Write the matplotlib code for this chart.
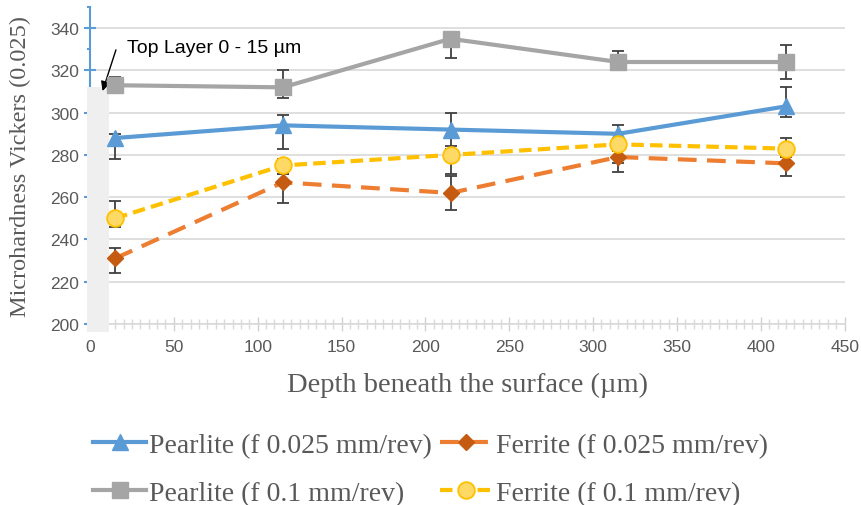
import matplotlib.pyplot as plt
import numpy as np
from matplotlib.ticker import MultipleLocator
from matplotlib.lines import Line2D

depth = [15, 115, 215, 315, 415]

pearlite_025 = [288, 294, 292, 290, 303]
pearlite_025_lo = [10, 11, 8, 4, 5]
pearlite_025_hi = [2, 5, 8, 4, 9]

ferrite_025 = [231, 267, 262, 279, 276]
ferrite_025_lo = [7, 10, 8, 7, 6]
ferrite_025_hi = [5, 4, 8, 3, 3]

pearlite_01 = [313, 312, 335, 324, 324]
pearlite_01_lo = [3, 5, 9, 4, 8]
pearlite_01_hi = [4, 8, 3, 5, 8]

ferrite_01 = [250, 275, 280, 285, 283]
ferrite_01_lo = [4, 4, 9, 9, 4]
ferrite_01_hi = [8, 3, 3, 3, 5]

top_layer = (-1.5, 11.5, 196, 312)   # x0, x1, bottom, top

plt.rcParams['font.family'] = ['Liberation Sans', 'DejaVu Sans']
fig = plt.figure(figsize=(8.61, 5.06), dpi=100)
ax = fig.add_axes([0.1045, 0.358, 0.8765, 0.626])

grey_txt = '#595959'
serif = ['Liberation Serif', 'DejaVu Serif']

# top layer band
ax.bar((top_layer[0] + top_layer[1]) / 2, top_layer[3] - top_layer[2],
       width=top_layer[1] - top_layer[0], bottom=top_layer[2],
       color='#EFEFEF', zorder=3, clip_on=False)

ebkw = dict(ecolor='#404040', elinewidth=1.3, capsize=4, capthick=1.3)

styles = {
    'p025': dict(color='#5B9BD5', lw=3, marker='^', ms=11, mfc='#5B9BD5', mec='#5B9BD5'),
    'f025': dict(color='#ED7D31', lw=3, ls=(0, (4.5, 2.5)), marker='D', ms=8,
                 mfc='#C55A11', mec='#C55A11'),
    'p01': dict(color='#A5A5A5', lw=3, marker='s', ms=12, mfc='#A5A5A5', mec='#A5A5A5'),
    'f01': dict(color='#FFC000', lw=3, ls=(0, (3, 1.5)), marker='o', ms=12,
                mfc='#FFD966', mec='#FFC000', mew=1.3),
}

ax.errorbar(depth, pearlite_025, yerr=[pearlite_025_lo, pearlite_025_hi],
            zorder=5, **styles['p025'], **ebkw)
ax.errorbar(depth, ferrite_025, yerr=[ferrite_025_lo, ferrite_025_hi],
            zorder=5, **styles['f025'], **ebkw)
ax.errorbar(depth, pearlite_01, yerr=[pearlite_01_lo, pearlite_01_hi],
            zorder=5, **styles['p01'], **ebkw)
ax.errorbar(depth, ferrite_01, yerr=[ferrite_01_lo, ferrite_01_hi],
            zorder=5, **styles['f01'], **ebkw)

ax.set_xlim(0, 450)
ax.set_ylim(200, 350)
ax.set_yticks(np.arange(200, 341, 20))
ax.yaxis.set_minor_locator(MultipleLocator(10))
ax.xaxis.set_major_locator(MultipleLocator(50))
ax.xaxis.set_minor_locator(MultipleLocator(5))
ax.grid(axis='y', color='#D9D9D9', lw=1.2, zorder=1)
ax.set_axisbelow(True)

for s in ['top', 'right']:
    ax.spines[s].set_visible(False)
ax.spines['left'].set_color('#5B9BD5')
ax.spines['left'].set_linewidth(1.5)
ax.spines['bottom'].set_color('#D9D9D9')
ax.spines['bottom'].set_linewidth(1.2)

ax.tick_params(axis='y', which='major', direction='inout', length=8, width=1.5,
               color='#5B9BD5', labelsize=12.5, labelcolor=grey_txt, pad=4)
ax.tick_params(axis='y', which='minor', direction='out', length=2, width=1.5,
               color='#5B9BD5')
ax.tick_params(axis='x', which='major', direction='inout', length=10, width=1,
               color='#D0D0D0', labelsize=12.5, labelcolor=grey_txt, pad=6)
ax.tick_params(axis='x', which='minor', direction='inout', length=7, width=1,
               color='#D9D9D9')

ax.set_xlabel('Depth beneath the surface (µm)', family=serif,
              fontsize=20.5, color=grey_txt, labelpad=13)
ax.set_ylabel('Microhardness Vickers (0.025)', family=serif,
              fontsize=17.5, color=grey_txt, labelpad=14)

ax.annotate('Top Layer 0 - 15 µm', xy=(7, 309), xytext=(22, 331),
            fontsize=14, color='black', va='center', ha='left')
ax.annotate('', xy=(7, 309), xytext=(16, 331),
            arrowprops=dict(arrowstyle='-|>', color='black', lw=1, mutation_scale=14))

# legend: row 1 = 0.025 series, row 2 = 0.1 series (matplotlib fills by column)
order = ['p025', 'p01', 'f025', 'f01']
labels = {'p025': 'Pearlite (f 0.025 mm/rev)', 'f025': 'Ferrite (f 0.025 mm/rev)',
          'p01': 'Pearlite (f 0.1 mm/rev)', 'f01': 'Ferrite (f 0.1 mm/rev)'}
handles = [Line2D([], [], **styles[k]) for k in order]
fig.legend(handles, [labels[k] for k in order], loc='lower center',
           bbox_to_anchor=(0.5, -0.04), ncol=2, frameon=False,
           prop={'family': serif, 'size': 20}, labelcolor=grey_txt,
           handlelength=1.9, handletextpad=0.1, columnspacing=0.3,
           labelspacing=0.8, borderaxespad=0.3)

fig.savefig('out.png', dpi=100)
